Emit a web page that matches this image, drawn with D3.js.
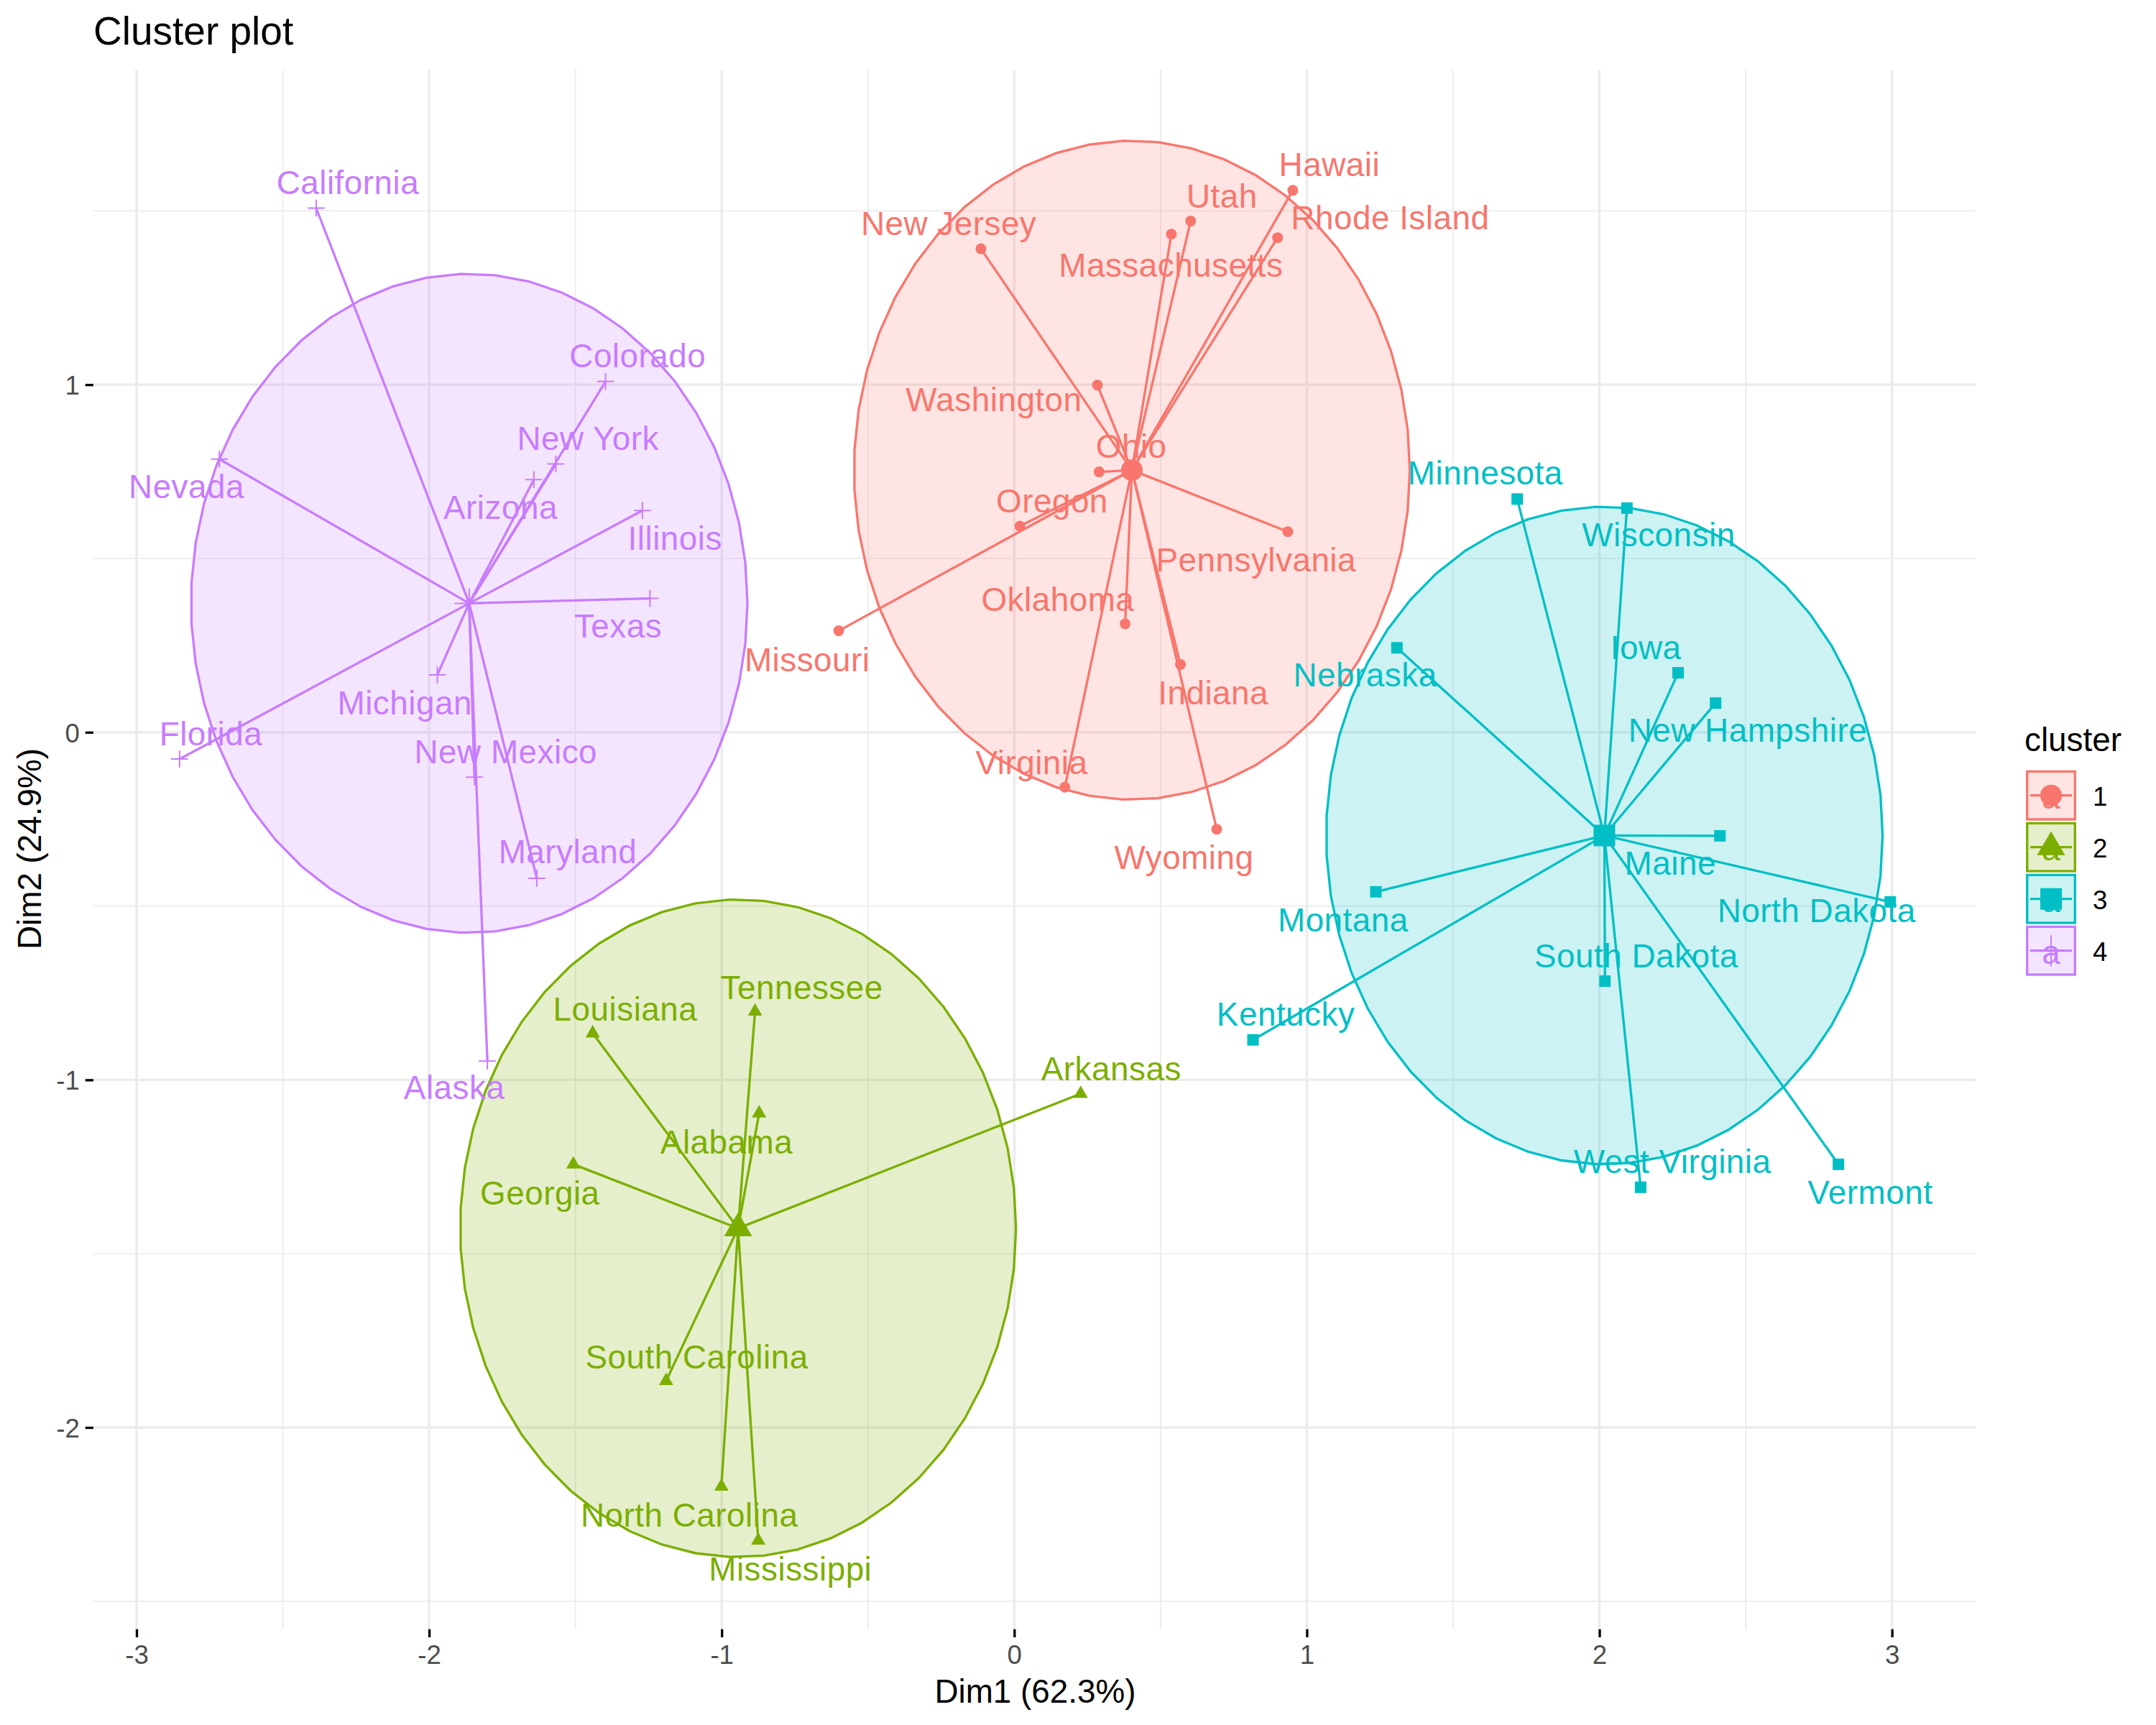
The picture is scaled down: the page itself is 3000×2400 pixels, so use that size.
<!DOCTYPE html>
<html>
<head>
<meta charset="utf-8">
<script src="https://cdn.jsdelivr.net/npm/d3@7"></script>
<style>html,body{margin:0;padding:0;background:#fff}svg{display:block}text{font-family:"Liberation Sans",Arial,sans-serif}</style>
</head>
<body>
<svg id="chart" width="3000" height="2400"></svg>
<script>
// ---------- data ----------
const chartTitle = "Cluster plot";
const xAxisTitle = "Dim1 (62.3%)";
const yAxisTitle = "Dim2 (24.9%)";
const legendTitle = "cluster";
const clusterIds = ["1", "2", "3", "4"];
const clusterColors = ["#F8766D", "#7CAE00", "#00BFC4", "#C77CFF"];
const xTicks = [-3, -2, -1, 0, 1, 2, 3];
const yTicks = [-2, -1, 0, 1];
const xMinorTicks = [-2.5, -1.5, -0.5, 0.5, 1.5, 2.5];
const yMinorTicks = [-2.5, -1.5, -0.5, 0.5, 1.5];

const centroidDim1 = [0.402, -0.944, 2.017, -1.863];
const centroidDim2 = [0.754, -1.427, -0.297, 0.371];
const ellipseRadiusDim1 = [0.950, 0.950, 0.951, 0.951];
const ellipseRadiusDim2 = [0.948, 0.946, 0.946, 0.948];

const states = ["Hawaii","Utah","Massachusetts","Rhode Island","New Jersey","Washington","Ohio","Oregon","Pennsylvania","Oklahoma","Missouri","Indiana","Virginia","Wyoming",
  "Tennessee","Louisiana","Alabama","Georgia","Arkansas","South Carolina","North Carolina","Mississippi",
  "Minnesota","Wisconsin","Nebraska","Iowa","New Hampshire","Maine","Montana","North Dakota","South Dakota","Kentucky","West Virginia","Vermont",
  "California","Nevada","Colorado","New York","Arizona","Illinois","Texas","Michigan","Florida","New Mexico","Maryland","Alaska"];
const stateCluster = [0,0,0,0,0,0,0,0,0,0,0,0,0,0,
  1,1,1,1,1,1,1,1,
  2,2,2,2,2,2,2,2,2,2,2,2,
  3,3,3,3,3,3,3,3,3,3,3,3];
const stateDim1 = [0.952,0.603,0.537,0.900,-0.114,0.284,0.290,0.019,0.935,0.379,-0.600,0.568,0.173,0.692,
  -0.886,-1.441,-0.872,-1.507,0.227,-1.190,-1.001,-0.875,
  1.719,2.094,1.308,2.269,2.397,2.412,1.236,2.994,2.019,0.816,2.141,2.817,
  -2.386,-2.717,-1.397,-1.567,-1.642,-1.271,-1.245,-1.972,-2.853,-1.845,-1.632,-1.801];
const stateDim2 = [1.559,1.471,1.433,1.423,1.391,0.999,0.749,0.593,0.577,0.312,0.292,0.195,-0.158,-0.279,
  -0.803,-0.866,-1.096,-1.243,-1.040,-1.866,-2.170,-2.325,
  0.671,0.645,0.243,0.171,0.084,-0.298,-0.459,-0.488,-0.716,-0.885,-1.309,-1.243,
  1.508,0.786,1.009,0.772,0.727,0.638,0.385,0.165,-0.077,-0.129,-0.420,-0.946];

// ---------- layout (pixels) ----------
const panel = {left:130, right:2749, top:97, bottom:2266.7};
const labelNudge = {
  "Hawaii":[51,-19.4],"Utah":[43.5,-18.7],"Massachusetts":[-0.6,59],"Rhode Island":[156.7,-11.4],"New Jersey":[-44.8,-18.7],
  "Washington":[-144,36.8],"Ohio":[44.8,-20],"Oregon":[44.9,-19.4],"Pennsylvania":[-44.2,54.9],"Oklahoma":[-93.7,-18],
  "Missouri":[-43.8,56.9],"Indiana":[45.6,55.5],"Virginia":[-46.2,-18.1],"Wyoming":[-45.6,55.5],
  "Tennessee":[65,-17],"Louisiana":[45.3,-18],"Alabama":[-45.3,56],"Georgia":[-46.5,55.6],"Arkansas":[42.6,-18.5],
  "South Carolina":[42.7,-17.7],"North Carolina":[-44.6,56],"Mississippi":[44.7,55.5],
  "Minnesota":[-44.3,-20],"Wisconsin":[44.2,53.6],"Nebraska":[-44.2,53.5],"Iowa":[-44.9,-19.3],"New Hampshire":[44.8,53.5],
  "Maine":[-69,54.2],"Montana":[-45.6,55.6],"North Dakota":[-102.4,28.2],"South Dakota":[43.6,-18.7],"Kentucky":[45.6,-19.4],
  "West Virginia":[44.2,-19.5],"Vermont":[44.2,55],
  "California":[44,-19.6],"Nevada":[-45.7,54],"Colorado":[44.7,-20],"New York":[44.8,-19],"Arizona":[-46.4,55],"Illinois":[45.4,55],
  "Texas":[-44.4,54.4],"Michigan":[-45.3,54.5],"Florida":[43.6,-19.5],"New Mexico":[43.6,-19],"Maryland":[43,-21],"Alaska":[-46,53]
};
const lineWidth = 3.33, labelSize = 45.83, tickSize = 36.67, titleSize = 55;
const ellipseSegments = 51;

// ---------- scales ----------
const x = d3.scaleLinear().domain([-3.1474, 3.2859]).range([panel.left, panel.right]);
const y = d3.scaleLinear().domain([-2.5804, 1.9061]).range([panel.bottom, panel.top]);

const svg = d3.select("#chart");
svg.append("rect").attr("width",3000).attr("height",2400).attr("fill","#fff");

// ---------- grid ----------
const grid = svg.append("g").attr("stroke","#ebebeb").attr("fill","none");
function vGrid(vals,w){grid.selectAll(null).data(vals).join("line").attr("x1",x).attr("x2",x).attr("y1",panel.top).attr("y2",panel.bottom).attr("stroke-width",w);}
function hGrid(vals,w){grid.selectAll(null).data(vals).join("line").attr("y1",y).attr("y2",y).attr("x1",panel.left).attr("x2",panel.right).attr("stroke-width",w);}
vGrid(xMinorTicks,lineWidth/2); hGrid(yMinorTicks,lineWidth/2);
vGrid(xTicks,lineWidth); hGrid(yTicks,lineWidth);

// ---------- marker shapes ----------
function drawMarker(sel, clusterIndex, big, legend){
  const c = clusterColors[clusterIndex];
  if(clusterIndex===0){
    sel.append("circle").attr("r",big?15:7.5).attr("fill",c);
  } else if(clusterIndex===1){
    const xc = big?19.5:10, r = big?22.2:11.5, yc = big?11.1:5.8;
    sel.append("path").attr("d",`M0,${-r}L${xc},${yc}L${-xc},${yc}Z`).attr("fill",c);
  } else if(clusterIndex===2){
    const s = big?30:16;
    sel.append("rect").attr("x",-s/2).attr("y",-s/2).attr("width",s).attr("height",s).attr("fill",c);
  } else {
    const h = big?(legend?21.5:20.5):11.8;
    sel.append("path").attr("d",`M${-h},0H${h}M0,${-h}V${h}`).attr("stroke",c).attr("stroke-width",2).attr("fill","none");
  }
}

// ---------- ellipses ----------
const ellipsePath = d3.line().x(d=>x(d[0])).y(d=>y(d[1]));
clusterIds.forEach((id,i)=>{
  const pts = d3.range(ellipseSegments).map(k=>{
    const t = 2*Math.PI*k/ellipseSegments;
    return [centroidDim1[i]+ellipseRadiusDim1[i]*Math.cos(t), centroidDim2[i]+ellipseRadiusDim2[i]*Math.sin(t)];
  });
  svg.append("path").attr("d",ellipsePath(pts)+"Z")
    .attr("fill",clusterColors[i]).attr("fill-opacity",0.2)
    .attr("stroke",clusterColors[i]).attr("stroke-width",lineWidth);
});

// ---------- points, segments ----------
const idx = d3.range(states.length);
svg.append("g").selectAll("line").data(idx).join("line")
  .attr("x1",i=>x(centroidDim1[stateCluster[i]])).attr("y1",i=>y(centroidDim2[stateCluster[i]]))
  .attr("x2",i=>x(stateDim1[i])).attr("y2",i=>y(stateDim2[i]))
  .attr("stroke",i=>clusterColors[stateCluster[i]]).attr("stroke-width",lineWidth);
const marks = svg.append("g");
idx.forEach(i=>{
  const g = marks.append("g").attr("transform",`translate(${x(stateDim1[i])},${y(stateDim2[i])})`);
  drawMarker(g,stateCluster[i],false,false);
});
clusterIds.forEach((id,i)=>{
  const g = marks.append("g").attr("transform",`translate(${x(centroidDim1[i])},${y(centroidDim2[i])})`);
  drawMarker(g,i,true,false);
});

// ---------- labels ----------
svg.append("g").attr("text-anchor","middle").attr("font-size",labelSize).attr("letter-spacing",0.5)
  .selectAll("text").data(idx).join("text")
  .attr("x",i=>x(stateDim1[i])+labelNudge[states[i]][0])
  .attr("y",i=>y(stateDim2[i])+labelNudge[states[i]][1])
  .attr("fill",i=>clusterColors[stateCluster[i]])
  .text(i=>states[i]);

// ---------- axes ----------
const xAxis = svg.append("g").attr("transform",`translate(0,${panel.bottom})`)
  .call(d3.axisBottom(x).tickValues(xTicks).tickFormat(String).tickSize(11.3).tickPadding(11));
const yAxis = svg.append("g").attr("transform",`translate(${panel.left},0)`)
  .call(d3.axisLeft(y).tickValues(yTicks).tickFormat(String).tickSize(11.3).tickPadding(7.9));
[xAxis,yAxis].forEach(a=>{
  a.attr("font-family",null).attr("font-size",null);
  a.select(".domain").remove();
  a.selectAll(".tick line").attr("stroke","#000").attr("stroke-width",lineWidth);
  a.selectAll(".tick text").attr("fill","#4d4d4d").attr("font-size",tickSize);
});
yAxis.selectAll(".tick text").attr("dy",13.5);

svg.append("text").attr("x",130).attr("y",62).attr("font-size",titleSize).attr("fill","#000").text(chartTitle);
svg.append("text").attr("x",1440.5).attr("y",2369).attr("text-anchor","middle").attr("font-size",labelSize).attr("fill","#000").text(xAxisTitle);
svg.append("text").attr("transform",`translate(57.3,1181) rotate(-90)`).attr("text-anchor","middle").attr("font-size",labelSize).attr("fill","#000").text(yAxisTitle);

// ---------- legend ----------
const legendKeyLeft = 2820.7, legendKeySize = 66.6, legendStep = 72, legendFirstCenter = 1106.7;
const legendCenterX = legendKeyLeft + legendKeySize/2;
svg.append("text").attr("x",2817).attr("y",1045).attr("font-size",labelSize).attr("fill","#000").text(legendTitle);
clusterIds.forEach((id,i)=>{
  const cy = legendFirstCenter + i*legendStep, c = clusterColors[i];
  svg.append("rect").attr("x",legendKeyLeft).attr("y",cy-legendKeySize/2).attr("width",legendKeySize).attr("height",legendKeySize)
    .attr("fill",c).attr("fill-opacity",0.2).attr("stroke",c).attr("stroke-width",lineWidth);
  svg.append("line").attr("x1",legendCenterX-29).attr("x2",legendCenterX+29).attr("y1",cy).attr("y2",cy).attr("stroke",c).attr("stroke-width",lineWidth);
  svg.append("text").attr("x",legendCenterX).attr("y",cy+18).attr("text-anchor","middle").attr("font-size",labelSize).attr("fill",c).text("a");
  const g = svg.append("g").attr("transform",`translate(${legendCenterX},${cy})`);
  drawMarker(g,i,true,true);
  svg.append("text").attr("x",2912).attr("y",cy+14.5).attr("font-size",tickSize).attr("fill","#000").text(id);
});
</script>
</body>
</html>
